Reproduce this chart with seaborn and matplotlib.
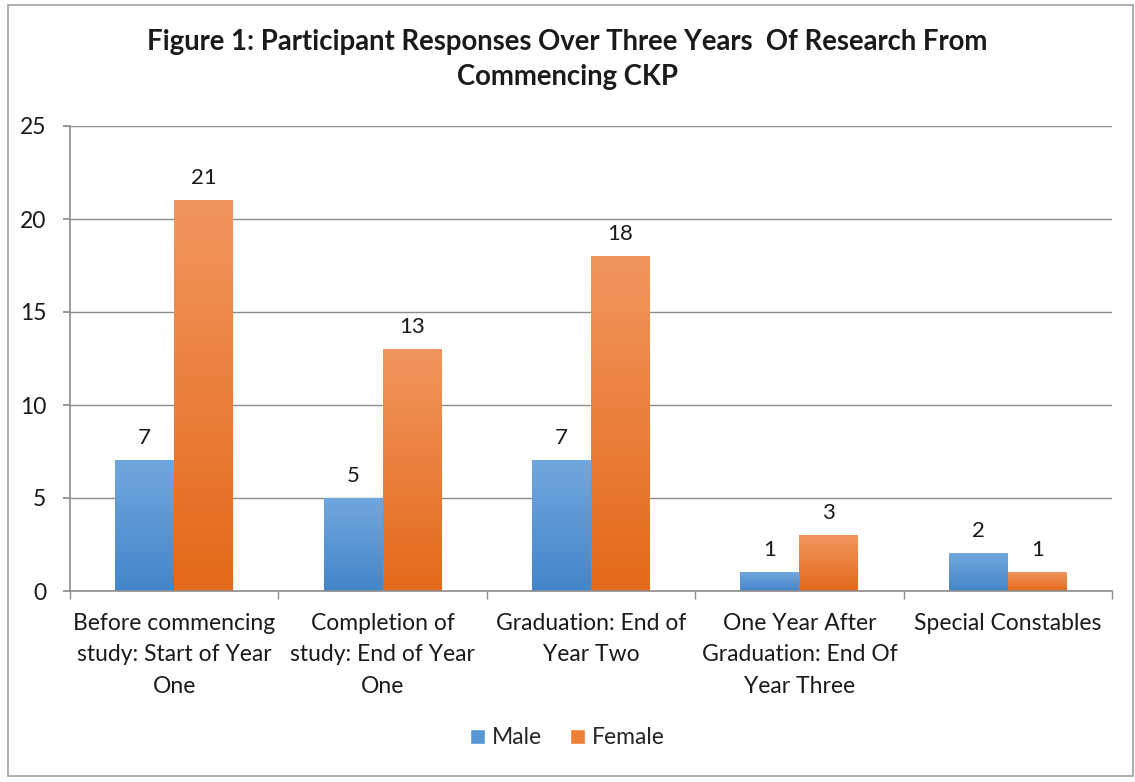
import matplotlib
matplotlib.use("Agg")
import matplotlib.pyplot as plt
import numpy as np
import pandas as pd
import seaborn as sns
from matplotlib.patches import Patch, Rectangle
from matplotlib.colors import LinearSegmentedColormap

# ── Data ────────────────────────────────────────────────────
categories = [
    "Before commencing\nstudy: Start of Year\nOne",
    "Completion of\nstudy: End of Year\nOne",
    "Graduation: End of\nYear Two",
    "One Year After\nGraduation: End Of\nYear Three",
    "Special Constables",
]
male = [7, 5, 7, 1, 2]
female = [21, 13, 18, 3, 1]
series = ["Male", "Female"]

df = pd.DataFrame({
    "Stage": categories * 2,
    "Gender": ["Male"] * len(categories) + ["Female"] * len(categories),
    "Count": male + female,
})

# ── Style ───────────────────────────────────────────────────
sns.set_theme(style="white")
plt.rcParams["font.family"] = ["Lato", "DejaVu Sans"]

GRAD = {
    "Male": ("#4385CA", "#72A7DD"),
    "Female": ("#E4691A", "#F1965F"),
}
MID = {"Male": "#5797D6", "Female": "#EE7F35"}
GRID = "#8C8C8C"
TXT = "#1a1a1a"

fig = plt.figure(figsize=(11.35, 7.82), dpi=100)
ax = fig.add_axes([70 / 1135, 1 - 591 / 782, (1112 - 70) / 1135, (591 - 126) / 782])

sns.barplot(
    data=df, x="Stage", y="Count", hue="Gender", hue_order=series,
    palette=MID, width=0.566, gap=0, legend=False, ax=ax,
    edgecolor="none", linewidth=0,
)

# gradient fill for each bar
for container, name in zip(ax.containers, series):
    cmap = LinearSegmentedColormap.from_list(name, [GRAD[name][0], GRAD[name][1]])
    grad = np.linspace(0, 1, 256).reshape(-1, 1)
    for bar in container:
        x, w, h = bar.get_x(), bar.get_width(), bar.get_height()
        ax.imshow(grad, extent=[x, x + w, 0, h], origin="lower", cmap=cmap,
                  aspect="auto", zorder=2, interpolation="bicubic")
        bar.set_facecolor("none")
    ax.bar_label(container, labels=[str(int(b.get_height())) for b in container],
                 padding=9, fontsize=16, color=TXT)

ax.set_xlim(-0.5, len(categories) - 0.5)
ax.set_ylim(0, 25)
ax.set_aspect("auto")

# axes styling
ax.set_yticks(range(0, 26, 5))
ax.yaxis.grid(True, color=GRID, linewidth=1)
ax.set_axisbelow(True)
for s in ["top", "right"]:
    ax.spines[s].set_visible(False)
for s in ["left", "bottom"]:
    ax.spines[s].set_color(GRID)
    ax.spines[s].set_linewidth(1.2)
ax.tick_params(axis="y", left=True, length=5, color=GRID, pad=12, labelsize=16.5,
               labelcolor=TXT)
ax.tick_params(axis="x", bottom=False, length=0, pad=16, labelsize=16.5,
               labelcolor=TXT)
ax.set_xticks(np.arange(len(categories) + 1) - 0.5, minor=True)
ax.tick_params(axis="x", which="minor", bottom=True, length=6, color=GRID)
for lab in ax.get_xticklabels():
    lab.set_linespacing(1.6)
ax.set_xlabel("")
ax.set_ylabel("")

fig.suptitle("Figure 1: Participant Responses Over Three Years  Of Research From\nCommencing CKP",
             x=0.5, y=0.963, fontsize=19.8, fontweight="bold", linespacing=1.45,
             color=TXT)

handles = [Patch(facecolor=MID[n], label=n) for n in series]
fig.legend(handles=handles, loc="center", bbox_to_anchor=(0.5, 1 - 738 / 782),
           ncol=2, frameon=False, fontsize=16.5, handlelength=0.65, handleheight=0.65,
           handletextpad=0.3, columnspacing=1.2)

# chart border
fig.patches.append(Rectangle((8 / 1135, 1 - 776 / 782), 1125 / 1135, 771 / 782,
                             transform=fig.transFigure, fill=False,
                             edgecolor="#A0A0A0", linewidth=1.2))

plt.savefig("out.png", dpi=100)
plt.close()
